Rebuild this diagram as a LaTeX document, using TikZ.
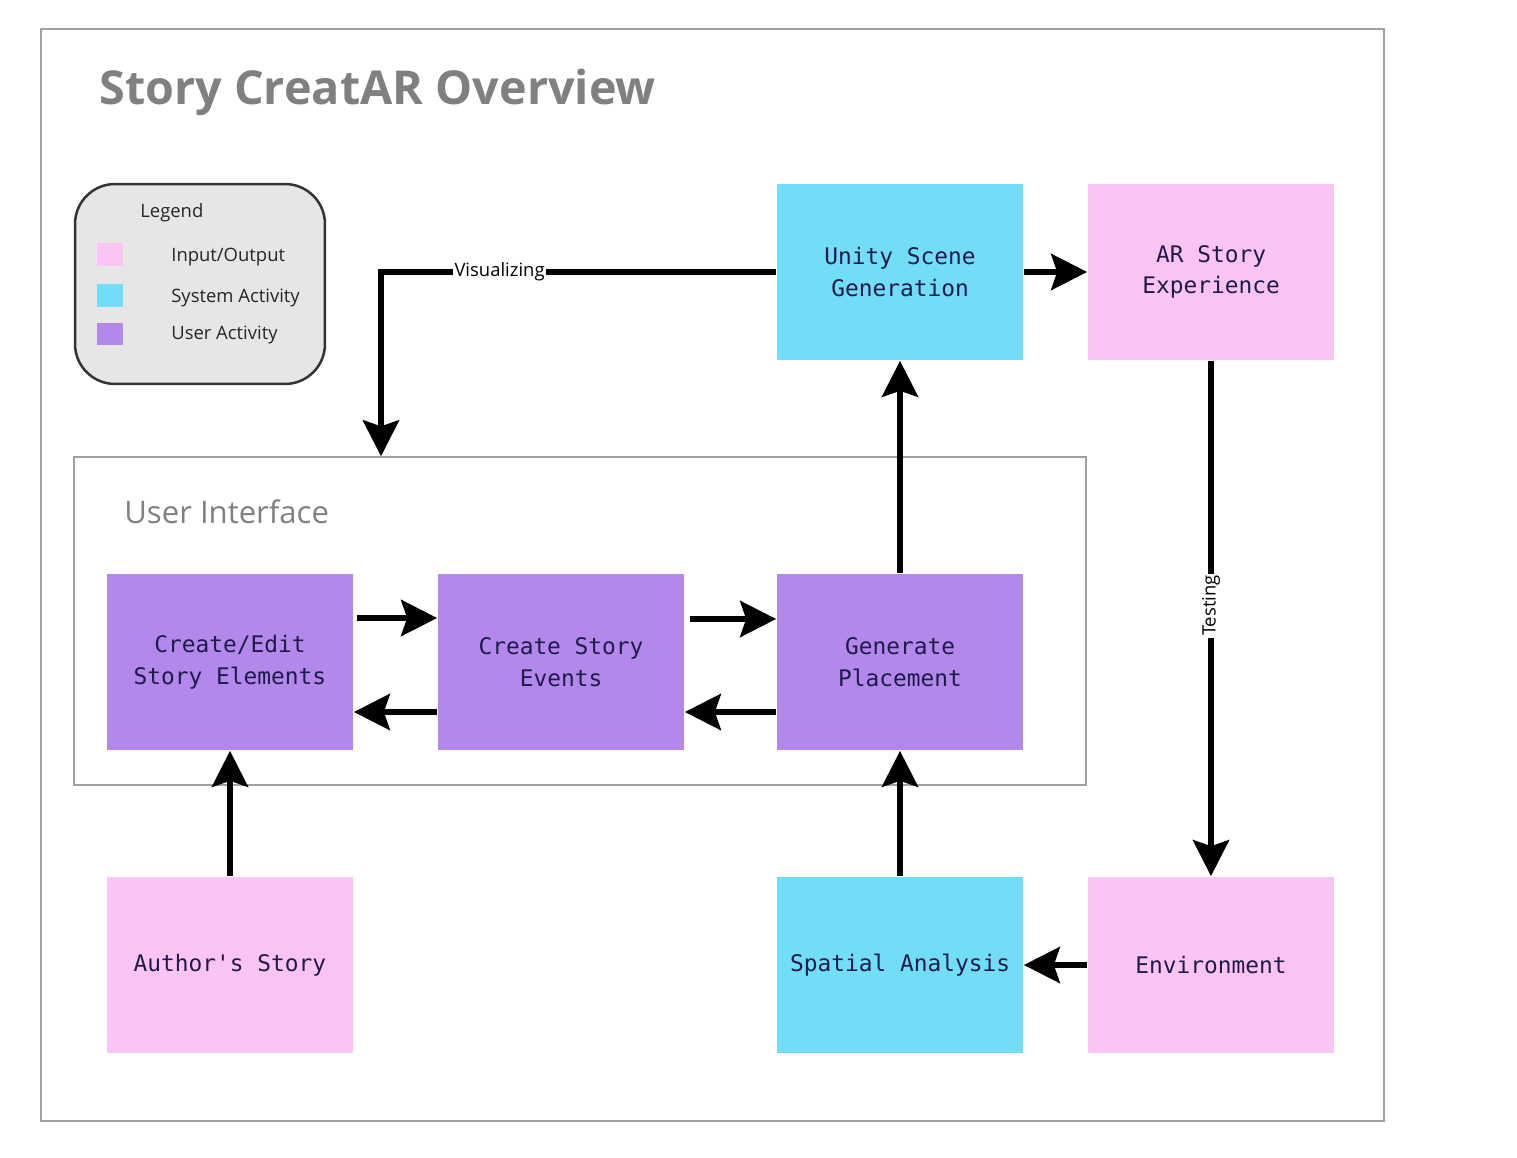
\documentclass[tikz,border=0pt]{standalone}
\usepackage{fontspec}
\setmainfont{Open Sans}
\newfontfamily\boxfont{DejaVu Sans Mono}
\usetikzlibrary{arrows.meta}

\definecolor{iopink}{HTML}{FBC4F3}
\definecolor{syscyan}{HTML}{72DDF7}
\definecolor{userpurple}{HTML}{B388EB}
\definecolor{legendgray}{HTML}{E6E6E6}
\definecolor{titlegray}{HTML}{808080}
\definecolor{framegray}{HTML}{A0A0A0}
\definecolor{boxtext}{HTML}{1E1B4B}

\tikzset{
    block/.style={minimum width=4.94cm, minimum height=3.54cm, inner sep=0pt,
        align=center, text=boxtext, font=\boxfont\fontsize{13}{18}\selectfont},
    iobox/.style={block, fill=iopink},
    sysbox/.style={block, fill=syscyan},
    userbox/.style={block, fill=userpurple},
    flow/.style={line width=0.12cm, -{Stealth[length=0.72cm, width=0.72cm, inset=0.12cm]}},
    swatch/.style={minimum width=0.52cm, minimum height=0.46cm, inner sep=0pt},
    legendtext/.style={anchor=base west, inner sep=0pt, font=\fontsize{10.5}{12}\selectfont, text=black!85},
    flowlabel/.style={fill=white, inner sep=1pt, font=\fontsize{10.5}{12}\selectfont}
}

\begin{document}
\begin{tikzpicture}[x=0.02cm, y=-0.02cm]
    \useasboundingbox (0,0) rectangle (1517,1158);

    % Outer frame and title
    \draw[framegray, line width=0.6pt] (41,29) rectangle (1384,1121);
    \node[anchor=base west, inner sep=0pt, text=titlegray, font=\bfseries\fontsize{26.6}{32}\selectfont]
        (title) at (99,105) {Story CreatAR Overview};

    % Legend
    \node[draw=black!80, line width=0.05cm, fill=legendgray, rounded corners=0.8cm,
        minimum width=5cm, minimum height=4cm] (legend) at (200,284) {};
    \node[legendtext] (legendhead) at (140,218) {Legend};
    \node[swatch, fill=iopink] (swio) at (110,255) {};
    \node[swatch, fill=syscyan] (swsys) at (110,296) {};
    \node[swatch, fill=userpurple] (swuser) at (110,334) {};
    \node[legendtext] (lio) at (171,262) {Input/Output};
    \node[legendtext] (lsys) at (171,303) {System Activity};
    \node[legendtext] (luser) at (171,340) {User Activity};

    % User interface frame
    \node[draw=framegray, line width=0.8pt, minimum width=20.24cm, minimum height=6.56cm,
        inner sep=0pt] (uiframe) at (580,621) {};
    \node[anchor=base west, inner sep=0pt, text=titlegray, font=\fontsize{17.7}{20}\selectfont]
        (uilabel) at (124,523) {User Interface};

    % Blocks
    \node[sysbox] (unity) at (900,272) {Unity Scene\\Generation};
    \node[iobox] (arstory) at (1211,272) {AR Story\\Experience};
    \node[userbox] (editel) at (230,662) {Create/Edit\\Story Elements};
    \node[userbox] (events) at (561,662) {Create Story\\Events};
    \node[userbox] (placement) at (900,662) {Generate\\Placement};
    \node[iobox] (author) at (230,965) {Author's Story};
    \node[sysbox] (spatial) at (900,965) {Spatial Analysis};
    \node[iobox] (environment) at (1211,965) {Environment};

    % Connectors
    \coordinate (viscorner) at (unity.west -| 381,0);
    \draw[flow] (unity.west) -- node[flowlabel, pos=0.7] {Visualizing} (viscorner)
        -- (viscorner |- uiframe.north);
    \draw[flow] (unity.east) -- (arstory.west);
    \draw[flow] (arstory.south) -- node[flowlabel, rotate=90, pos=0.475] {Testing}
        (environment.north);
    \draw[flow] (environment.west) -- (spatial.east);
    \draw[flow] (spatial.north) -- (placement.south);
    \draw[flow] (placement.north) -- (unity.south);
    \draw[flow] (author.north) -- (editel.south);

    \draw[flow, shorten <=2pt] (editel.east |- 0,618) -- (events.west |- 0,618);
    \draw[flow] (events.west |- 0,712) -- (editel.east |- 0,712);
    \draw[flow, shorten <=3pt] (events.east |- 0,619) -- (placement.west |- 0,619);
    \draw[flow] (placement.west |- 0,712) -- (events.east |- 0,712);
\end{tikzpicture}
\end{document}
